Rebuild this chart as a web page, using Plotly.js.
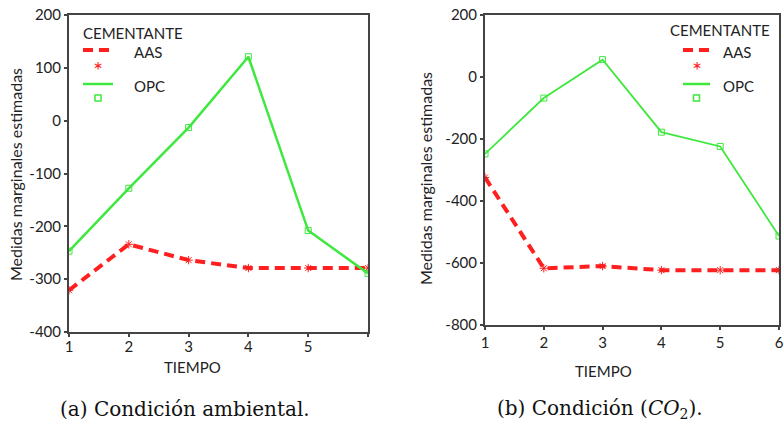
<!DOCTYPE html>
<html><head><meta charset="utf-8">
<script src="https://cdn.plot.ly/plotly-3.0.1.min.js"></script>
<style>html,body{margin:0;padding:0;background:#fff}</style>
</head><body>
<div id="chart" style="width:784px;height:423px"></div>
<script>
const tiempo = [1, 2, 3, 4, 5, 6];
const ambAAS = [-321, -234, -264, -279, -279, -279];
const ambOPC = [-247, -128, -13, 121, -208, -289];
const co2AAS = [-324, -617, -610, -623, -623, -623];
const co2OPC = [-248, -68, 56, -178, -224, -513];
const series = ['AAS', 'OPC'];
const ambTicks = [-400, -300, -200, -100, 0, 100, 200];
const ambTickText = ['-400', '-300', '-200', '-100', '0', '100', '200'];
const co2Ticks = [-800, -600, -400, -200, 0, 200];
const co2TickText = ['-800', '-600', '-400', '-200', '0', '200'];
const legendTitle = 'CEMENTANTE';
const yTitle = 'Medidas marginales estimadas';
const xTitle = 'TIEMPO';
const captions = ['(a) Condición ambiental.', '(b) Condición (<i>CO</i><sub>2</sub>).'];

const W = 784, H = 423;
const px = x => x / W, py = y => 1 - y / H;
const RED = '#ff1f1f', GREEN = '#3ee83e', AX = '#444';
const sans = 'Lato, "Liberation Sans", sans-serif';
const txt = '#222';

const traces = [
  {x: tiempo, y: ambAAS, name: series[0], xaxis: 'x', yaxis: 'y', mode: 'lines+markers',
   line: {color: RED, width: 4, dash: '10px,6px'}, marker: {symbol: 'asterisk-open', size: 7, color: RED, line: {color: RED, width: 1}}},
  {x: tiempo, y: ambOPC, name: series[1], xaxis: 'x', yaxis: 'y', mode: 'lines+markers',
   line: {color: GREEN, width: 2.5}, marker: {symbol: 'square-open', size: 6, color: GREEN, line: {color: GREEN, width: 1}}},
  {x: tiempo, y: co2AAS, name: series[0], xaxis: 'x2', yaxis: 'y2', mode: 'lines+markers',
   line: {color: RED, width: 4, dash: '10px,6px'}, marker: {symbol: 'asterisk-open', size: 7, color: RED, line: {color: RED, width: 1}}},
  {x: tiempo, y: co2OPC, name: series[1], xaxis: 'x2', yaxis: 'y2', mode: 'lines+markers',
   line: {color: GREEN, width: 1.8}, marker: {symbol: 'square-open', size: 6, color: GREEN, line: {color: GREEN, width: 1}}}
];

const axBase = {showline: true, mirror: true, linecolor: AX, linewidth: 2, showgrid: false, zeroline: false,
  ticks: 'outside', ticklen: 3, tickcolor: AX, tickwidth: 2, tickfont: {family: sans, size: 15, color: txt}};

const layout = {
  width: W, height: H, margin: {l: 0, r: 0, t: 0, b: 0}, showlegend: false,
  paper_bgcolor: '#fff', plot_bgcolor: '#fff',
  xaxis: Object.assign({}, axBase, {domain: [px(69), px(368)], range: [1, 6], anchor: 'y', ticklabelstandoff: -3,
    tickvals: tiempo, ticktext: ['1', '2', '3', '4', '5', '']}),
  yaxis: Object.assign({}, axBase, {domain: [py(332), py(15)], range: [-400, 200], anchor: 'x',
    tickvals: ambTicks, ticktext: ambTickText}),
  xaxis2: Object.assign({}, axBase, {domain: [px(485), px(779)], range: [1, 6], anchor: 'y2', ticklabelstandoff: 0,
    tickvals: tiempo, ticktext: tiempo.map(String)}),
  yaxis2: Object.assign({}, axBase, {domain: [py(325), py(15)], range: [-800, 200], anchor: 'x2',
    tickvals: co2Ticks, ticktext: co2TickText}),
  shapes: [], annotations: []
};

function ann(x, y, text, font, extra) {
  layout.annotations.push(Object.assign({xref: 'paper', yref: 'paper', x: px(x), y: py(y), xanchor: 'center', yanchor: 'middle',
    text: text, showarrow: false, font: font}, extra || {}));
}

const axTitleFont = {family: sans, size: 16, color: txt};
ann(15, 175, yTitle, axTitleFont, {textangle: -90});
ann(425, 179, yTitle, axTitleFont, {textangle: -90});
ann(192, 367, xTitle, {family: sans, size: 15, color: txt});
ann(603, 371, xTitle, {family: sans, size: 15, color: txt});

function legend(x0, yTop, lineX1, textX, titleX, titleY) {
  const f = {family: sans, size: 15, color: txt};
  ann(titleX, titleY, legendTitle, f, {xanchor: 'left'});
  layout.shapes.push({type: 'line', xref: 'paper', yref: 'paper', x0: px(x0), x1: px(lineX1), y0: py(yTop), y1: py(yTop),
    line: {color: RED, width: 4, dash: '10px,6px'}});
  ann(textX, yTop + 2, series[0], f, {xanchor: 'left'});
  const mx = (x0 + lineX1) / 2;
  ann(mx, yTop + 19, '*', {family: sans, size: 24, color: RED});
  layout.shapes.push({type: 'line', xref: 'paper', yref: 'paper', x0: px(x0), x1: px(lineX1), y0: py(yTop + 34), y1: py(yTop + 34),
    line: {color: GREEN, width: 2.5}});
  ann(textX, yTop + 36, series[1], f, {xanchor: 'left'});
  layout.shapes.push({type: 'rect', xref: 'paper', yref: 'paper', x0: px(mx - 3), x1: px(mx + 3), y0: py(yTop + 45), y1: py(yTop + 51),
    line: {color: GREEN, width: 1.5}});
}
legend(83, 50, 113, 132, 81, 33);
legend(683, 50, 710, 721, 668, 30);

const capFont = {family: '"DejaVu Serif", "Liberation Serif", serif', size: 20, color: '#111'};
ann(185, 409, captions[0], capFont);
ann(600, 409, captions[1], capFont);

Plotly.newPlot('chart', traces, layout, {displayModeBar: false, staticPlot: true});
</script>
</body></html>
